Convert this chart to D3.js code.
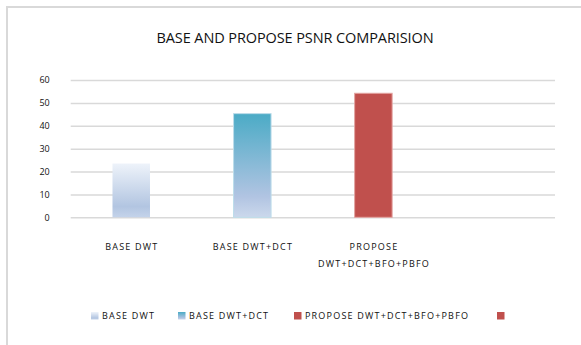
<!DOCTYPE html>
<html><head><meta charset="utf-8">
<script src="https://cdn.jsdelivr.net/npm/d3@7"></script>
<style>
html,body{margin:0;padding:0;background:#fff;}
svg text{font-family:"Open Sans","Noto Sans",sans-serif;fill:#111;}
</style></head>
<body><svg id="c" width="581" height="345"></svg>
<script>
const title = "BASE AND PROPOSE PSNR COMPARISION";
const categories = ["BASE DWT", "BASE DWT+DCT", "PROPOSE DWT+DCT+BFO+PBFO", ""];
const categoryLabelLines = [["BASE DWT"], ["BASE DWT+DCT"], ["PROPOSE", "DWT+DCT+BFO+PBFO"], []];
const psnrValues = [23.5, 45.3, 54.2, null];
const yTicks = [0, 10, 20, 30, 40, 50, 60];
const legendNames = ["BASE DWT", "BASE DWT+DCT", "PROPOSE DWT+DCT+BFO+PBFO", ""];

const svg = d3.select("#c");
const defs = svg.append("defs");
function grad(id, stops){
  const g = defs.append("linearGradient").attr("id", id).attr("x1",0).attr("y1",0).attr("x2",0).attr("y2",1);
  stops.forEach(s => g.append("stop").attr("offset", s[0]).attr("stop-color", s[1]));
}
grad("g0", [[0,"#eef3fa"],[0.8,"#b2c5e1"],[1,"#c4d3ea"]]);
grad("g1", [[0,"#4babc6"],[0.8,"#b1c4e2"],[1,"#cbd8ec"]]);
const fills = ["url(#g0)", "url(#g1)", "#c0504d", "#c0504d"];
const strokes = ["none", "#bcdcea", "#e3a3a1", "#e3a3a1"];

// frame
svg.append("rect").attr("x",7).attr("y",7).attr("width",700).attr("height",500)
  .attr("fill","none").attr("stroke","#d9d9d9").attr("stroke-width",2);

svg.append("text").attr("x",295).attr("y",43).attr("text-anchor","middle")
  .style("font-size","14.5px").style("letter-spacing","-0.1px").text(title);

const x = d3.scaleBand().domain(categories.map((c,i)=>i)).range([70.7, 555]).paddingInner(0).paddingOuter(0);
const y = d3.scaleLinear().domain([0,60]).range([217.3, 80]);

const yAxis = svg.append("g").attr("transform","translate(70.7,0)")
  .call(d3.axisLeft(y).tickValues(yTicks).tickSize(-(555-70.7)).tickPadding(21).tickFormat(d3.format("d")));
yAxis.select(".domain").remove();
yAxis.selectAll(".tick line").attr("stroke","#d9d9d9").attr("stroke-width",1.5);
yAxis.selectAll(".tick text").style("font-size","9px").attr("fill","#111").style("font-family","'Open Sans',sans-serif");

const bw = 37.5;
svg.append("g").selectAll("rect").data(psnrValues.map((v,i)=>({v,i})).filter(d=>d.v!=null))
  .join("rect")
  .attr("x", d => x(d.i) + (x.bandwidth()-bw)/2)
  .attr("width", bw)
  .attr("y", d => y(d.v))
  .attr("height", d => y(0) - y(d.v))
  .attr("fill", d => fills[d.i])
  .attr("stroke", d => strokes[d.i]).attr("stroke-width",1);

const catG = svg.append("g");
categoryLabelLines.forEach((lines, i) => {
  lines.forEach((ln, j) => {
    catG.append("text").attr("x", x(i) + x.bandwidth()/2 + 0.6).attr("y", 250 + j*16.7)
      .attr("text-anchor","middle").style("font-size","9px").style("letter-spacing","1.2px").text(ln);
  });
});

// legend
const legendX = [91, 178, 294, 497];
const lg = svg.append("g");
legendNames.forEach((n,i) => {
  lg.append("rect").attr("x", legendX[i]).attr("y", 312).attr("width",7.5).attr("height",7.5)
    .attr("fill", fills[i]);
  if (n) lg.append("text").attr("x", legendX[i]+11).attr("y", 319.3).style("font-size","9px").style("letter-spacing","1.2px").text(n);
});
</script></body></html>
